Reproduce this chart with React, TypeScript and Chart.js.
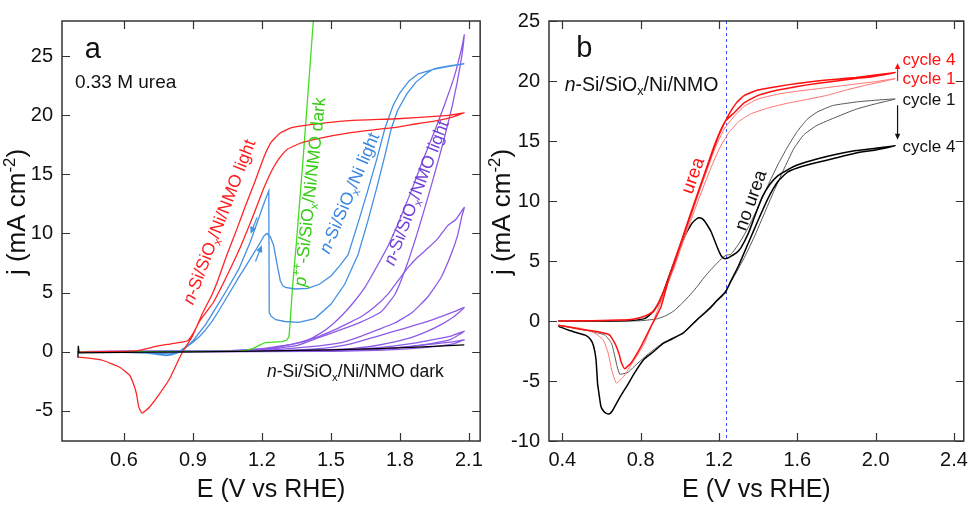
import React, { useEffect, useRef } from "react";
import { Chart, registerables } from "chart.js";

Chart.register(...registerables);

type Pt = [number, number];

const FONT = '"Liberation Sans", Arial, Helvetica, sans-serif';

// ---------------- Panel a data ----------------
const aXTicks = [0.6, 0.9, 1.2, 1.5, 1.8, 2.1];
const aYTicks = [-5, 0, 5, 10, 15, 20, 25];

const aRed: Pt[] = [
  [0.40, -0.05], [0.50, 0.0], [0.60, 0.03], [0.66, 0.08], [0.70, 0.25], [0.75, 0.48], [0.80, 0.64],
  [0.85, 0.8], [0.877, 0.92], [0.90, 1.5], [0.93, 2.6], [0.96, 3.4], [0.99, 4.2], [1.03, 5.7],
  [1.07, 7.3], [1.11, 9.0], [1.15, 10.9], [1.18, 12.4], [1.21, 13.9], [1.24, 15.2], [1.27, 16.2],
  [1.31, 17.1], [1.37, 17.65], [1.45, 18.05], [1.58, 18.5], [1.70, 18.8], [1.79, 19.0], [1.88, 19.3],
  [1.95, 19.5], [2.02, 19.8], [2.08, 20.2],
  [2.02, 20.0], [1.95, 19.9], [1.79, 19.7], [1.58, 19.55], [1.43, 19.25], [1.33, 18.95], [1.28, 18.5],
  [1.24, 17.7], [1.21, 16.5], [1.17, 14.4], [1.13, 12.4], [1.09, 10.3], [1.05, 8.3], [1.01, 6.1],
  [0.985, 4.9], [0.941, 3.2], [0.898, 1.3], [0.862, 0.2], [0.84, -0.6], [0.80, -2.25], [0.754, -3.6],
  [0.711, -4.7], [0.679, -5.2], [0.665, -4.7], [0.655, -3.6], [0.645, -2.9], [0.625, -2.0], [0.58, -1.3],
  [0.51, -0.75], [0.45, -0.55], [0.40, -0.47],
];

const aBlue: Pt[] = [
  [0.40, -0.05], [0.55, -0.05], [0.70, -0.12], [0.76, -0.28], [0.785, -0.33], [0.81, -0.25], [0.84, -0.06],
  [0.87, 0.35], [0.90, 0.8], [0.93, 1.3], [0.956, 1.86], [0.985, 2.6], [1.014, 3.5], [1.057, 4.9],
  [1.10, 6.3], [1.143, 7.63], [1.186, 9.0], [1.21, 9.8], [1.222, 10.0], [1.237, 9.7], [1.251, 9.0],
  [1.266, 7.4], [1.28, 6.0], [1.29, 5.6], [1.302, 5.44], [1.345, 5.3], [1.40, 5.35], [1.45, 5.7],
  [1.50, 6.4], [1.54, 7.3], [1.575, 8.2], [1.62, 11.0], [1.66, 13.6], [1.70, 16.3], [1.735, 18.9],
  [1.77, 20.8], [1.80, 21.9], [1.84, 22.9], [1.88, 23.5], [1.95, 23.9], [2.02, 24.15], [2.08, 24.35],
  [2.02, 24.2], [1.95, 23.95], [1.92, 23.6], [1.87, 22.8], [1.83, 21.8], [1.79, 20.4], [1.763, 18.9],
  [1.735, 16.6], [1.70, 13.9], [1.66, 11.0], [1.618, 8.2], [1.56, 5.7], [1.50, 4.0], [1.43, 2.8],
  [1.36, 2.47], [1.30, 2.55], [1.26, 2.7], [1.24, 3.0], [1.232, 3.3], [1.23, 13.6],
  [1.21, 12.6], [1.19, 11.5], [1.15, 9.3], [1.10, 7.0], [1.05, 5.3], [1.0, 3.7], [0.956, 2.3],
  [0.90, 0.9], [0.87, 0.4], [0.84, 0.0], [0.80, -0.2], [0.70, -0.1], [0.55, -0.05], [0.40, -0.05],
];

const aGreen: Pt[] = [
  [0.40, 0.0], [0.70, 0.0], [1.00, 0.02], [1.10, 0.05], [1.13, 0.1], [1.16, 0.25], [1.19, 0.55],
  [1.215, 0.77], [1.25, 0.8], [1.29, 0.85], [1.31, 1.0], [1.318, 1.3], [1.323, 2.5], [1.328, 4.0],
  [1.333, 5.4], [1.34, 7.0], [1.35, 9.2], [1.38, 16.5], [1.42, 27.0], [1.43, 29.5],
];

const aPurple1: Pt[] = [
  [0.40, 0.0], [0.80, 0.0], [1.00, 0.05], [1.20, 0.15], [1.35, 0.5], [1.45, 1.2], [1.55, 1.9],
  [1.63, 2.5], [1.72, 3.4], [1.78, 4.9], [1.83, 7.3], [1.88, 10.3], [1.93, 13.6], [1.98, 17.1],
  [2.03, 21.0], [2.065, 24.5], [2.08, 26.8], [2.07, 25.8], [2.04, 23.5], [2.00, 21.2], [1.95, 18.6],
  [1.90, 16.2], [1.85, 13.6], [1.80, 11.2], [1.75, 9.0], [1.70, 7.2], [1.65, 5.5], [1.60, 4.2],
  [1.55, 3.1], [1.50, 2.2], [1.45, 1.5], [1.40, 1.0], [1.30, 0.5], [1.20, 0.2], [1.00, 0.05], [0.40, 0.0],
];
const aPurple2: Pt[] = [
  [0.40, 0.0], [1.00, 0.03], [1.20, 0.1], [1.40, 0.4], [1.547, 0.77], [1.633, 1.32], [1.705, 1.86],
  [1.777, 2.42], [1.849, 3.24], [1.921, 4.62], [1.979, 6.27], [2.022, 8.19], [2.051, 9.83], [2.07, 11.5],
  [2.08, 12.2], [2.044, 11.2], [2.008, 10.66], [1.965, 9.56], [1.921, 8.74], [1.878, 8.0], [1.835, 7.1],
  [1.792, 6.0], [1.749, 4.89], [1.691, 3.79], [1.633, 2.97], [1.576, 2.41], [1.518, 1.86], [1.45, 1.3],
  [1.35, 0.7], [1.20, 0.25], [1.00, 0.05], [0.40, 0.0],
];
const aPurple3: Pt[] = [
  [0.40, 0.0], [1.20, 0.03], [1.40, 0.1], [1.55, 0.2], [1.633, 0.35], [1.705, 0.54], [1.777, 0.82],
  [1.849, 1.18], [1.921, 1.73], [1.979, 2.28], [2.036, 2.97], [2.08, 3.73], [2.036, 3.38], [1.979, 2.97],
  [1.921, 2.56], [1.849, 2.14], [1.777, 1.73], [1.705, 1.32], [1.633, 0.91], [1.561, 0.55], [1.45, 0.25],
  [1.30, 0.1], [1.00, 0.03], [0.40, 0.0],
];
const aPurple4: Pt[] = [
  [0.40, 0.0], [1.40, 0.03], [1.60, 0.1], [1.70, 0.18], [1.777, 0.3], [1.85, 0.45], [1.921, 0.63],
  [1.975, 0.82], [2.022, 1.04], [2.08, 1.73], [2.022, 1.32], [1.95, 1.04], [1.878, 0.77], [1.777, 0.49],
  [1.65, 0.25], [1.50, 0.1], [1.20, 0.03], [0.40, 0.0],
];
const aPurple5: Pt[] = [
  [0.40, 0.0], [1.50, 0.03], [1.70, 0.1], [1.85, 0.25], [1.95, 0.42], [2.03, 0.65], [2.08, 1.0],
  [2.02, 0.8], [1.95, 0.65], [1.85, 0.45], [1.70, 0.22], [1.50, 0.08], [0.40, 0.0],
];
const aBlack: Pt[] = [
  [0.40, -0.5], [0.402, 0.5], [0.405, -0.1], [0.50, -0.08], [0.70, -0.05], [0.90, -0.02], [1.10, 0.02],
  [1.30, 0.08], [1.50, 0.15], [1.70, 0.25], [1.90, 0.4], [2.08, 0.58],
];

// ---------------- Panel b data ----------------
const bXTicks = [0.4, 0.8, 1.2, 1.6, 2.0, 2.4];
const bYTicks = [-10, -5, 0, 5, 10, 15, 20, 25];
const bMarkerE = [1.234];

const bRed4: Pt[] = [
  [0.38, 0.0], [0.50, 0.02], [0.60, 0.04], [0.70, 0.08], [0.76, 0.15], [0.80, 0.3], [0.84, 0.55],
  [0.87, 0.9], [0.91, 2.2], [0.97, 4.7], [1.00, 6.2], [1.05, 8.6], [1.10, 11.0], [1.15, 13.3],
  [1.20, 15.5], [1.25, 17.2], [1.29, 18.2], [1.33, 18.8], [1.40, 19.25], [1.50, 19.55], [1.60, 19.8],
  [1.70, 20.0], [1.80, 20.15], [1.90, 20.3], [2.00, 20.5], [2.10, 20.7],
  [2.00, 20.4], [1.90, 20.2], [1.80, 20.0], [1.70, 19.8], [1.60, 19.55], [1.50, 19.25], [1.40, 18.8],
  [1.33, 18.2], [1.28, 17.4], [1.23, 16.6], [1.18, 14.8], [1.12, 12.0], [1.05, 8.7], [1.00, 6.3],
  [0.95, 3.9], [0.903, 1.14], [0.852, -0.49], [0.802, -2.12], [0.752, -3.48], [0.718, -3.97],
  [0.70, -3.4], [0.693, -2.93], [0.68, -2.3], [0.668, -1.85], [0.642, -1.17], [0.584, -0.9],
  [0.499, -0.7], [0.38, -0.35],
];
const bRed1: Pt[] = [
  [0.38, 0.0], [0.60, 0.03], [0.76, 0.12], [0.82, 0.35], [0.87, 0.85], [0.91, 2.0], [0.97, 4.4],
  [1.00, 5.8], [1.05, 8.1], [1.10, 10.3], [1.15, 12.4], [1.20, 14.3], [1.25, 15.7], [1.30, 16.6],
  [1.36, 17.25], [1.45, 17.75], [1.55, 18.15], [1.63, 18.4], [1.75, 18.8], [1.85, 19.25], [1.95, 19.65],
  [2.05, 20.0], [2.10, 20.2],
  [2.00, 19.95], [1.90, 19.75], [1.80, 19.55], [1.70, 19.35], [1.60, 19.15], [1.50, 18.9], [1.40, 18.5],
  [1.33, 17.9], [1.28, 17.1], [1.23, 16.1], [1.18, 14.4], [1.12, 11.7], [1.05, 8.4], [1.00, 6.0],
  [0.95, 3.6], [0.886, 0.86], [0.852, -0.49], [0.82, -1.85], [0.769, -3.21], [0.73, -4.2], [0.71, -4.7],
  [0.676, -5.17], [0.66, -4.5], [0.651, -4.0], [0.634, -2.66], [0.609, -1.58], [0.567, -1.03],
  [0.499, -0.63], [0.38, -0.35],
];
const bBlack1: Pt[] = [
  [0.38, 0.0], [0.60, 0.0], [0.80, 0.02], [0.886, 0.19], [0.93, 0.45], [0.971, 0.86], [1.01, 1.45],
  [1.055, 2.22], [1.09, 2.9], [1.122, 3.58], [1.16, 4.3], [1.19, 4.81], [1.22, 5.3], [1.24, 5.5],
  [1.26, 5.55], [1.30, 6.4], [1.35, 7.8], [1.40, 9.5], [1.45, 11.3], [1.50, 13.0], [1.55, 14.5],
  [1.60, 15.8], [1.65, 16.8], [1.70, 17.4], [1.78, 17.95], [1.90, 18.25], [2.00, 18.4], [2.10, 18.5],
  [2.00, 18.1], [1.90, 17.65], [1.80, 17.0], [1.70, 16.3], [1.632, 15.5], [1.58, 14.3], [1.53, 12.6],
  [1.48, 10.8], [1.43, 8.9], [1.38, 7.0], [1.33, 5.3], [1.28, 3.8], [1.233, 2.5], [1.15, 1.1],
  [1.085, 0.1], [1.018, -0.95], [0.917, -1.8], [0.85, -2.6], [0.80, -3.3], [0.76, -3.9], [0.735, -4.29],
  [0.71, -4.4], [0.693, -4.43], [0.68, -3.8], [0.668, -2.93], [0.651, -1.85], [0.617, -1.17],
  [0.533, -0.81], [0.38, -0.35],
];
const bBlack4: Pt[] = [
  [0.38, 0.0], [0.60, 0.0], [0.75, 0.05], [0.82, 0.2], [0.86, 0.7], [0.90, 1.7], [0.94, 3.5],
  [0.98, 5.3], [1.02, 6.9], [1.06, 8.1], [1.085, 8.5], [1.10, 8.6], [1.12, 8.45], [1.14, 8.0],
  [1.161, 7.4], [1.185, 6.4], [1.203, 5.7], [1.215, 5.35], [1.228, 5.2], [1.245, 5.25], [1.262, 5.4],
  [1.29, 5.7], [1.312, 6.1], [1.35, 7.3], [1.38, 8.6], [1.42, 10.3], [1.46, 11.4], [1.50, 12.1],
  [1.55, 12.6], [1.60, 13.0], [1.70, 13.5], [1.80, 13.9], [1.90, 14.2], [2.00, 14.4], [2.10, 14.6],
  [2.00, 14.25], [1.90, 14.0], [1.80, 13.6], [1.70, 13.2], [1.60, 12.75], [1.55, 12.4], [1.50, 11.6],
  [1.45, 10.2], [1.40, 8.4], [1.35, 6.5], [1.30, 4.6], [1.26, 3.3], [1.233, 2.4], [1.19, 1.7],
  [1.15, 1.0], [1.085, 0.05], [1.018, -1.0], [0.96, -1.5], [0.917, -1.85], [0.87, -2.5], [0.816, -3.21],
  [0.77, -4.3], [0.731, -5.38], [0.70, -6.2], [0.681, -6.74], [0.655, -7.5], [0.64, -7.74], [0.625, -7.7],
  [0.61, -7.5], [0.597, -7.1], [0.585, -5.8], [0.58, -5.2], [0.572, -3.2], [0.56, -2.1], [0.546, -1.58],
  [0.52, -1.2], [0.479, -1.0], [0.43, -0.75], [0.38, -0.45],
];

// ---------------- helpers ----------------
type Seg = { t: string; it: boolean; sub: boolean; sup: boolean };
function parseRich(s: string): Seg[] {
  const segs: Seg[] = [];
  let it = false, sub = false, sup = false, buf = "";
  const flush = () => { if (buf) segs.push({ t: buf, it, sub, sup }); buf = ""; };
  for (const ch of s) {
    if (ch === "*") { flush(); it = !it; }
    else if (ch === "_") { flush(); sub = !sub; }
    else if (ch === "^") { flush(); sup = !sup; }
    else buf += ch;
  }
  flush();
  return segs;
}

function drawRich(ctx: CanvasRenderingContext2D, s: string, x: number, y: number, angle: number,
  size: number, color: string, align: "left" | "center" = "left") {
  const segs = parseRich(s);
  ctx.save();
  ctx.translate(x, y);
  ctx.rotate((angle * Math.PI) / 180);
  ctx.fillStyle = color;
  ctx.textBaseline = "alphabetic";
  ctx.textAlign = "left";
  const fontFor = (g: Seg) => `${g.it ? "italic " : ""}${g.sub || g.sup ? size * 0.65 : size}px ${FONT}`;
  let total = 0;
  for (const g of segs) { ctx.font = fontFor(g); total += ctx.measureText(g.t).width; }
  let cx = align === "center" ? -total / 2 : 0;
  for (const g of segs) {
    ctx.font = fontFor(g);
    const dy = g.sub ? size * 0.22 : g.sup ? -size * 0.4 : 0;
    ctx.fillText(g.t, cx, dy);
    cx += ctx.measureText(g.t).width;
  }
  ctx.restore();
}

function drawArrow(ctx: CanvasRenderingContext2D, x1: number, y1: number, x2: number, y2: number, color: string, head: number) {
  const a = Math.atan2(y2 - y1, x2 - x1);
  ctx.save();
  ctx.strokeStyle = color;
  ctx.fillStyle = color;
  ctx.lineWidth = 1.2;
  ctx.beginPath();
  ctx.moveTo(x1, y1);
  ctx.lineTo(x2 - Math.cos(a) * head * 0.8, y2 - Math.sin(a) * head * 0.8);
  ctx.stroke();
  ctx.beginPath();
  ctx.moveTo(x2, y2);
  ctx.lineTo(x2 - head * Math.cos(a) + head * 0.45 * Math.sin(a), y2 - head * Math.sin(a) - head * 0.45 * Math.cos(a));
  ctx.lineTo(x2 - head * Math.cos(a) - head * 0.45 * Math.sin(a), y2 - head * Math.sin(a) + head * 0.45 * Math.cos(a));
  ctx.closePath();
  ctx.fill();
  ctx.restore();
}

type Label = { text: string; x: number; y: number; angle: number; size: number; color: string };
type Arrow = { x1: number; y1: number; x2: number; y2: number; color: string; head: number };
type Series = { pts: Pt[]; color: string; width: number; tension?: number };

type PanelCfg = {
  key: string;
  xRange: [number, number];
  yRange: [number, number];
  xTicks: number[];
  yTicks: number[];
  xFmt: (v: number) => string;
  rightPad: number;
  series: Series[];
  labels: Label[];
  arrows: Arrow[];
  vlines: number[];
  yTitleX: number;
  yTitleY: number;
};

function makeConfig(p: PanelCfg): any {
  const TL = 8;
  const decor = {
    id: "decor" + p.key,
    beforeDatasetsDraw(chart: any) {
      const { ctx, chartArea: ca, scales } = chart;
      ctx.save();
      ctx.strokeStyle = "#2f4cff";
      ctx.lineWidth = 1;
      ctx.setLineDash([3, 3]);
      for (const v of p.vlines) {
        const px = Math.round(scales.x.getPixelForValue(v)) + 0.5;
        ctx.beginPath();
        ctx.moveTo(px, ca.top);
        ctx.lineTo(px, ca.bottom);
        ctx.stroke();
      }
      ctx.restore();
    },
    afterDraw(chart: any) {
      const { ctx, chartArea: ca, scales } = chart;
      const x = scales.x, y = scales.y;
      ctx.save();
      ctx.strokeStyle = "#333";
      ctx.lineWidth = 1.5;
      ctx.strokeRect(ca.left, ca.top, ca.right - ca.left, ca.bottom - ca.top);
      ctx.beginPath();
      for (const v of p.xTicks) {
        const px = Math.round(x.getPixelForValue(v)) + 0.5;
        ctx.moveTo(px, ca.bottom); ctx.lineTo(px, ca.bottom - TL);
        ctx.moveTo(px, ca.top); ctx.lineTo(px, ca.top + TL);
      }
      for (const v of p.yTicks) {
        const py = Math.round(y.getPixelForValue(v)) + 0.5;
        ctx.moveTo(ca.left, py); ctx.lineTo(ca.left + TL, py);
        ctx.moveTo(ca.right, py); ctx.lineTo(ca.right - TL, py);
      }
      ctx.lineWidth = 1.2;
      ctx.stroke();
      ctx.restore();
      drawRich(ctx, "j (mA cm^-2^)", p.yTitleX, p.yTitleY, -90, 26, "#111", "center");
      for (const L of p.labels) {
        drawRich(ctx, L.text, x.getPixelForValue(L.x), y.getPixelForValue(L.y), L.angle, L.size, L.color);
      }
      for (const A of p.arrows) {
        drawArrow(ctx, x.getPixelForValue(A.x1), y.getPixelForValue(A.y1), x.getPixelForValue(A.x2),
          y.getPixelForValue(A.y2), A.color, A.head);
      }
    },
  };
  return {
    type: "line",
    data: {
      datasets: p.series.map((s) => ({
        data: s.pts.map(([ex, jy]) => ({ x: ex, y: jy })),
        borderColor: s.color,
        borderWidth: s.width,
        pointRadius: 0,
        tension: s.tension ?? 0.15,
        fill: false,
      })),
    },
    options: {
      animation: false,
      responsive: false,
      maintainAspectRatio: false,
      devicePixelRatio: 1,
      layout: { padding: { top: 10, right: p.rightPad, left: 0, bottom: 0 } },
      plugins: { legend: { display: false }, tooltip: { enabled: false } },
      scales: {
        x: {
          type: "linear",
          min: p.xRange[0],
          max: p.xRange[1],
          grid: { display: false, drawTicks: false },
          border: { display: false },
          ticks: { padding: 7, font: { size: 20, family: FONT }, color: "#111", autoSkip: false, maxRotation: 0,
            callback: (v: number) => p.xFmt(v) },
          afterBuildTicks: (s: any) => { s.ticks = p.xTicks.map((v) => ({ value: v })); },
          afterFit: (s: any) => { s.height = 67; },
          title: { display: true, text: "E (V vs RHE)", font: { size: 25, family: FONT }, color: "#111",
            padding: { top: 0, bottom: 3 } },
        },
        y: {
          type: "linear",
          min: p.yRange[0],
          max: p.yRange[1],
          grid: { display: false, drawTicks: false },
          border: { display: false },
          ticks: { padding: 9, font: { size: 20, family: FONT }, color: "#111", autoSkip: false,
            callback: (v: number) => String(v) },
          afterBuildTicks: (s: any) => { s.ticks = p.yTicks.map((v) => ({ value: v })); },
          afterFit: (s: any) => { s.width = 62; },
        },
      },
    },
    plugins: [decor],
  };
}

const RED_A = "#ff2424";
const BLUE_A = "#4490e2";
const GREEN_A = "#44dd22";
const PURPLE_A = "#8d5ae8";

const panelA: PanelCfg = {
  key: "a",
  xRange: [0.331, 2.149],
  yRange: [-7.56, 27.97],
  xTicks: aXTicks,
  yTicks: aYTicks,
  xFmt: (v) => v.toFixed(1),
  rightPad: 8,
  series: [
    { pts: aBlack, color: "#000", width: 1.3, tension: 0 },
    { pts: aRed, color: RED_A, width: 1.3 },
    { pts: aBlue, color: BLUE_A, width: 1.3, tension: 0 },
    { pts: aGreen, color: GREEN_A, width: 1.3, tension: 0 },
    { pts: aPurple1, color: PURPLE_A, width: 1.3 },
    { pts: aPurple2, color: PURPLE_A, width: 1.3 },
    { pts: aPurple3, color: PURPLE_A, width: 1.3 },
    { pts: aPurple4, color: PURPLE_A, width: 1.3 },
    { pts: aPurple5, color: PURPLE_A, width: 1.3 },
  ],
  labels: [
    { text: "a", x: 0.43, y: 24.84, angle: 0, size: 29, color: "#111" },
    { text: "0.33 M urea", x: 0.387, y: 22.34, angle: 0, size: 19, color: "#111" },
    { text: "*n*-Si/SiO_x_/Ni/NMO light", x: 0.901, y: 3.9, angle: -69, size: 17.5, color: "#ff1a1a" },
    { text: "*p*^++^-Si/SiO_x_/Ni/NMO dark", x: 1.39, y: 5.47, angle: -84, size: 17.5, color: "#33cc11" },
    { text: "*n*-Si/SiO_x_/Ni light", x: 1.493, y: 8.2, angle: -67, size: 17.5, color: "#3a86e0" },
    { text: "*n*-Si/SiO_x_/NMO light", x: 1.774, y: 7.2, angle: -69, size: 17.5, color: "#7040d8" },
    { text: "*n*-Si/SiO_x_/Ni/NMO dark", x: 1.222, y: -2.12, angle: 0, size: 17.5, color: "#111" },
  ],
  arrows: [
    { x1: 1.179, y1: 11.35, x2: 1.151, y2: 9.97, color: BLUE_A, head: 7 },
    { x1: 1.172, y1: 7.63, x2: 1.20, y2: 9.0, color: BLUE_A, head: 7 },
  ],
  vlines: [],
  yTitleX: 25,
  yTitleY: 212,
};

const panelB: PanelCfg = {
  key: "b",
  xRange: [0.332, 2.45],
  yRange: [-10, 25],
  xTicks: bXTicks,
  yTicks: bYTicks,
  xFmt: (v) => v.toFixed(1),
  rightPad: 6,
  series: [
    { pts: bRed4, color: "#ff1010", width: 1.5 },
    { pts: bRed1, color: "#ff7070", width: 1.0 },
    { pts: bBlack4, color: "#000", width: 1.5 },
    { pts: bBlack1, color: "#555", width: 1.0 },
  ],
  labels: [
    { text: "b", x: 0.471, y: 22.03, angle: 0, size: 29, color: "#111" },
    { text: "*n*-Si/SiO_x_/Ni/NMO", x: 0.412, y: 19.2, angle: 0, size: 19.5, color: "#111" },
    { text: "urea", x: 1.062, y: 10.5, angle: -70, size: 18.5, color: "#ff1010" },
    { text: "no urea", x: 1.335, y: 7.44, angle: -70, size: 18.5, color: "#111" },
    { text: "cycle 4", x: 2.137, y: 21.3, angle: 0, size: 17, color: "#ff1010" },
    { text: "cycle 1", x: 2.137, y: 19.75, angle: 0, size: 17, color: "#ff1010" },
    { text: "cycle 1", x: 2.137, y: 17.98, angle: 0, size: 17, color: "#111" },
    { text: "cycle 4", x: 2.137, y: 14.1, angle: 0, size: 17, color: "#111" },
  ],
  arrows: [
    { x1: 2.112, y1: 20.0, x2: 2.112, y2: 21.5, color: "#ff1010", head: 6 },
    { x1: 2.112, y1: 17.98, x2: 2.112, y2: 15.1, color: "#111", head: 6 },
  ],
  vlines: bMarkerE,
  yTitleX: 23,
  yTitleY: 212,
};

export default function App() {
  const refA = useRef<HTMLCanvasElement>(null);
  const refB = useRef<HTMLCanvasElement>(null);
  useEffect(() => {
    Chart.defaults.font.family = FONT;
    const ca = new Chart(refA.current as HTMLCanvasElement, makeConfig(panelA));
    const cb = new Chart(refB.current as HTMLCanvasElement, makeConfig(panelB));
    return () => { ca.destroy(); cb.destroy(); };
  }, []);
  return (
    <div style={{ position: "absolute", left: 0, top: 0, width: 975, height: 508, background: "#fff" }}>
      <canvas ref={refA} width={490} height={508}
        style={{ position: "absolute", left: 0, top: 0, width: 490, height: 508 }} />
      <canvas ref={refB} width={488} height={508}
        style={{ position: "absolute", left: 487, top: 0, width: 488, height: 508 }} />
    </div>
  );
}
